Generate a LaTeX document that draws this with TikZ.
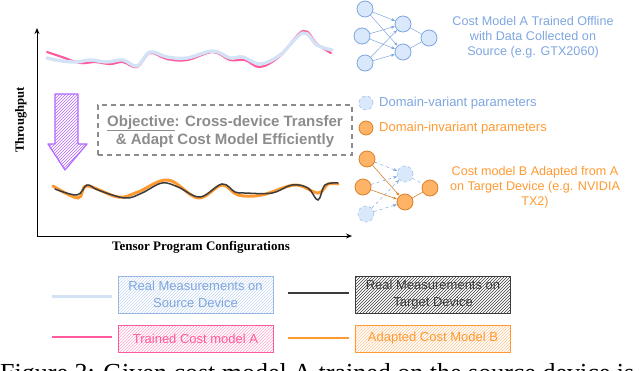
\documentclass[tikz,border=0pt]{standalone}
\usepackage{fontspec}
\setmainfont{Liberation Serif}
\setsansfont{Liberation Sans}
\usetikzlibrary{arrows.meta,patterns}
\definecolor{lblue}{HTML}{D4E2F6}
\definecolor{nblue}{HTML}{DAE8FC}
\definecolor{sblue}{HTML}{7EA6E0}
\definecolor{tblue}{HTML}{7EA6E0}
\definecolor{pinkc}{HTML}{FF5A9E}
\definecolor{orangec}{HTML}{FF9A33}
\definecolor{onode}{HTML}{FFB366}
\definecolor{ostroke}{HTML}{D9822B}
\definecolor{darkc}{HTML}{3C3C3C}
\definecolor{grayc}{HTML}{8C8C8C}
\definecolor{purplec}{HTML}{B266FF}
\tikzset{
  nnA/.style={circle,minimum size=16pt,inner sep=0pt,fill=nblue,draw=sblue,line width=0.8pt},
  nnO/.style={circle,minimum size=16pt,inner sep=0pt,fill=onode,draw=ostroke,line width=0.8pt},
  nnV/.style={circle,minimum size=16pt,inner sep=0pt,fill=nblue,draw=sblue!70,dashed,line width=0.6pt},
  edgeA/.style={draw=sblue,line width=0.5pt,-{Stealth[length=4pt,width=3pt]}},
  edgeO/.style={draw=ostroke,line width=0.6pt,-{Stealth[length=4pt,width=3pt]}},
  edgeV/.style={draw=sblue,dashed,line width=0.5pt,-{Stealth[length=4pt,width=3pt]}},
  axis/.style={draw=black,line width=1pt,-{Stealth[length=6pt,width=5pt]}},
  sanslbl/.style={font=\sffamily\fontsize{12.6}{15}\selectfont,align=center},
  legbox/.style={minimum width=155pt,inner sep=0pt,align=center,line width=0.8pt,font=\sffamily\fontsize{13}{17.5}\selectfont},
  objtext/.style={inner sep=0pt,text=grayc,font=\sffamily\bfseries\fontsize{15}{18}\selectfont},
}
\begin{document}
\begin{tikzpicture}[x=1pt,y=-1pt]
\useasboundingbox (0,0) rectangle (640,370);
\clip (0,0) rectangle (640,370);
% axes
\coordinate (O) at (37,236);
\coordinate (Ytop) at (37,28);
\coordinate (Xend) at (352,236);
\draw[axis] (O) -- (Ytop);
\draw[axis] (O) -- (Xend);
\node[rotate=90,font=\bfseries\fontsize{12.6}{14}\selectfont] (ylab) at (21,120) {Throughput};
\node[font=\bfseries\fontsize{13}{15}\selectfont] (xlab) at (201,247) {Tensor Program Configurations};
% top curves
\draw[pinkc,line width=2.2pt,line cap=round] plot[smooth,tension=0.6] coordinates {(47,52) (62,57) (80,63) (95,62) (110,64) (123,62) (137,67) (150,53) (167,59) (187,60) (213,52) (230,60) (245,60) (260,67) (280,56) (303,31) (317,44) (331,53)};
\draw[lblue,line width=3.4pt,line cap=round] plot[smooth,tension=0.6] coordinates {(47,58) (62,61) (77,62) (90,60) (107,62) (123,60) (137,66) (150,52) (167,57) (187,58) (213,51) (230,58) (243,57) (260,64) (280,55) (303,33) (317,45) (332,50)};
% bottom curves
\draw[orangec,line width=3pt,line cap=round] plot[smooth,tension=0.6] coordinates {(53,186) (78,198) (87,186) (118,197) (138,192) (168,180) (198,198) (222,185) (238,195) (262,195) (295,185) (318,193) (328,184) (338,184)};
\draw[darkc,line width=1.5pt,line cap=round] plot[smooth,tension=0.6] coordinates {(55,189) (77,195) (87,185) (98,190) (125,198) (142,193) (162,183) (178,187) (200,197) (222,184) (235,192) (245,193) (272,193) (292,185) (308,188) (318,200) (325,185) (338,183)};
% purple hatched arrow
\draw[purplec,line width=1.2pt,pattern=north east lines,pattern color=purplec,line join=round]
  (55,94) -- (78,94) -- (78,144) -- (87,144) -- (65,170) -- (48,144) -- (55,144) -- cycle;
% objective box
\node[draw=grayc,line width=1.6pt,dash pattern=on 5pt off 4pt,minimum width=254pt,minimum height=50pt,inner sep=0pt] (obj) at (225,130) {};
\node[objtext,anchor=base] (obj1) at (225,126) {\underline{Objective}: Cross-device Transfer};
\node[objtext,anchor=base] (obj2) at (225,144) {\& Adapt Cost Model Efficiently};
% network A
\node[nnA] (a1) at (365,9) {};
\node[nnA] (a2) at (362,36) {};
\node[nnA] (a3) at (365,63) {};
\node[nnA] (h1) at (403,24) {};
\node[nnA] (h2) at (403,52) {};
\node[nnA] (ao) at (429,38) {};
\foreach \s in {a1,a2,a3}{\foreach \t in {h1,h2}{\draw[edgeA] (\s) -- (\t);}}
\draw[sblue,line width=0.5pt] (h1) -- (ao);
\draw[sblue,line width=0.5pt] (h2) -- (ao);
\node[sanslbl,text=tblue] (ta) at (533,37) {Cost Model A Trained Offline\\with Data Collected on\\Source (e.g. GTX2060)};
% parameter legend
\node[nnV,minimum size=14pt] (lv) at (366,103) {};
\node[anchor=west,inner sep=0pt,text=tblue,font=\sffamily\fontsize{13}{15}\selectfont] (lvt) at (379,103) {Domain-variant parameters};
\node[nnO,minimum size=14pt] (li) at (366,128) {};
\node[anchor=west,inner sep=0pt,text=orangec,font=\sffamily\fontsize{13}{15}\selectfont] (lit) at (379,128) {Domain-invariant parameters};
% network B
\node[nnO] (b1) at (367,159) {};
\node[nnO] (b2) at (363,187) {};
\node[nnV] (b3) at (366,214) {};
\node[nnV] (g1) at (405,174) {};
\node[nnO] (g2) at (405,202) {};
\node[nnO] (bo) at (430,188) {};
\draw[edgeV] (b1) -- (g1);
\draw[edgeV] (b2) -- (g1);
\draw[edgeV] (b3) -- (g1);
\draw[edgeV] (b3) -- (g2);
\draw[sblue,dashed,line width=0.5pt] (g1) -- (bo);
\draw[edgeO] (b1) -- (g2);
\draw[edgeO] (b2) -- (g2);
\draw[ostroke,line width=0.6pt] (g2) -- (bo);
\node[sanslbl,text=orangec] (tb) at (535,187) {Cost model B Adapted from A\\on Target Device (e.g. NVIDIA\\TX2)};
% bottom legend
\coordinate (l1a) at (52,296); \coordinate (l1b) at (112,296);
\coordinate (l2a) at (288,293); \coordinate (l2b) at (349,293);
\coordinate (l3a) at (52,337); \coordinate (l3b) at (112,337);
\coordinate (l4a) at (288,338); \coordinate (l4b) at (349,338);
\draw[lblue,line width=3pt] (l1a) -- (l1b);
\draw[darkc,line width=2pt] (l2a) -- (l2b);
\draw[pinkc,line width=2.5pt] (l3a) -- (l3b);
\draw[orangec,line width=2.5pt] (l4a) -- (l4b);
\node[legbox,draw=sblue!80,pattern=north east lines,pattern color=sblue!45,minimum height=37pt,text=sblue] (k1) at (195.5,294.5) {Real Measurements on\\Source Device};
\node[legbox,draw=darkc,pattern=north east lines,pattern color=darkc,minimum height=37pt,text=darkc] (k2) at (433,294.5) {Real Measurements on\\Target Device};
\node[legbox,draw=pinkc,pattern=north east lines,pattern color=pinkc!55,minimum height=27pt,text=pinkc] (k3) at (195.5,338.5) {Trained Cost model A};
\node[legbox,draw=orangec,pattern=north east lines,pattern color=orangec!55,minimum height=27pt,text=orangec] (k4) at (433,338.5) {Adapted Cost Model B};
% caption (cut off by the page edge, as in the reference)
\node[anchor=base west,inner sep=0pt,font=\fontsize{26}{30}\selectfont] (cap) at (0,381) {Figure 3: Given cost model A trained on the source device is};
\end{tikzpicture}
\end{document}
